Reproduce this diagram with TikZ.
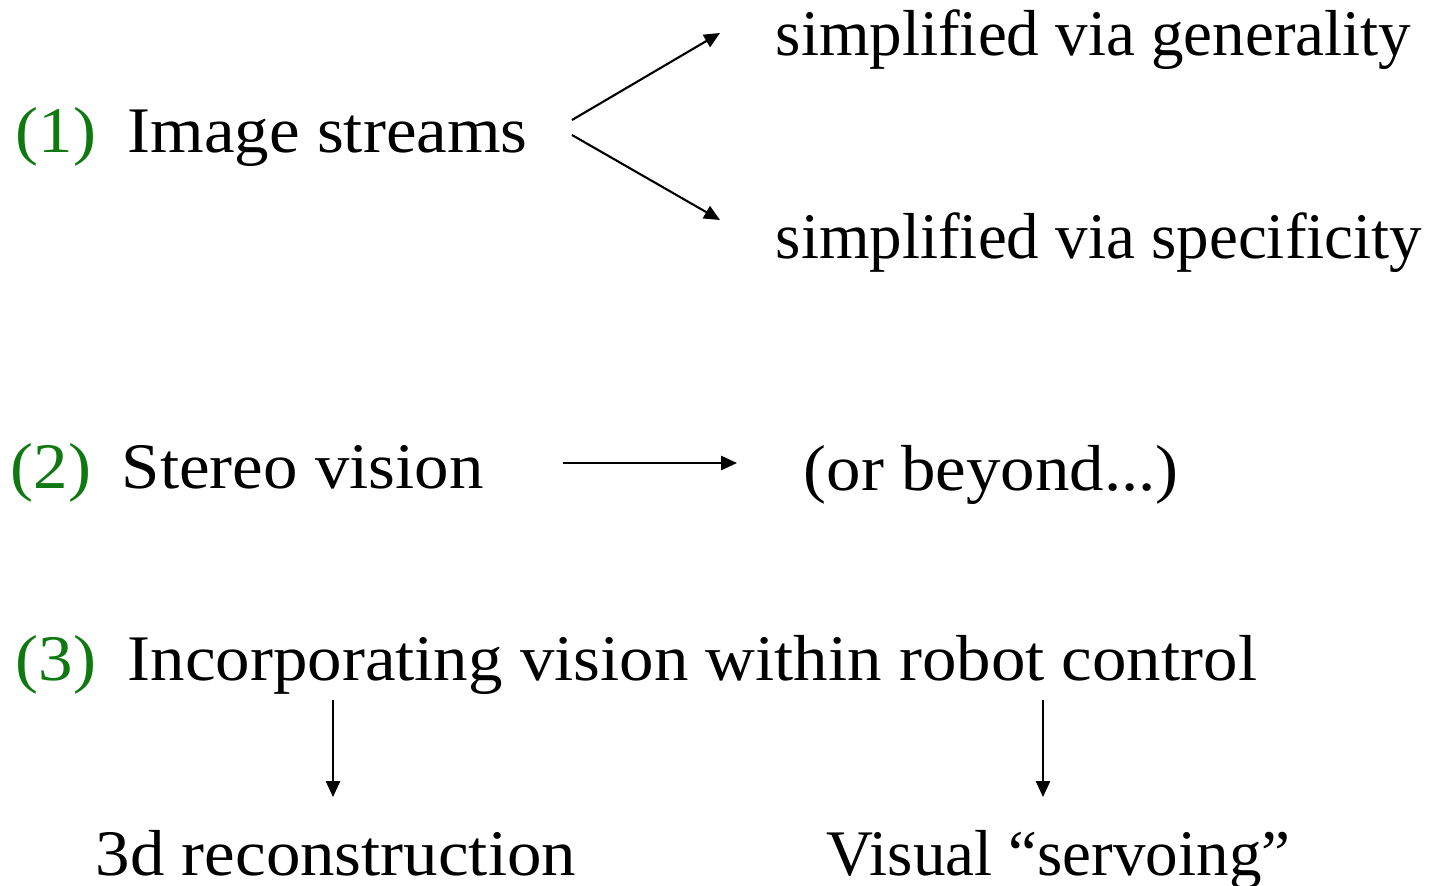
\documentclass[tikz,border=0pt]{standalone}
\usepackage{fontspec}
\setmainfont{Liberation Serif}[FakeStretch=1.06]
\newfontfamily\plainserif{Liberation Serif}
\usepackage{tikz}
\usetikzlibrary{arrows.meta}
\definecolor{numgreen}{RGB}{16,120,16}

\begin{document}
\begin{tikzpicture}[
    txt/.style={anchor=base west,inner sep=0pt,font=\fontsize{18.5}{22}\selectfont},
    plaintxt/.style={txt,font=\fontsize{18.5}{22}\plainserif},
    num/.style={txt,text=numgreen},
    arr/.style={line width=0.6pt,-{Triangle[length=4.5pt,width=4pt]}}
  ]
          \useasboundingbox (0,0) rectangle (14.4,8.85);
          % (1)
          \node[num] (n1) at (0.15,7.33) {(1)};
          \node[txt] (imgstr) at (1.27,7.33) {Image streams};
          \node[plaintxt] (gen) at (7.75,8.30) {simplified via generality};
          \node[plaintxt] (spec) at (7.75,6.27) {simplified via specificity};
          \coordinate (split1) at (5.72,7.65);
          \coordinate (split2) at (5.72,7.50);
          \coordinate (genin) at (7.20,8.52);
          \coordinate (specin) at (7.20,6.65);
          \draw[arr] (split1) -- (genin);
          \draw[arr] (split2) -- (specin);
          % (2)
          \node[num] (n2) at (0.10,3.97) {(2)};
          \node[txt] (stereo) at (1.21,3.97) {Stereo vision};
          \node[txt] (beyond) at (8.03,3.95) {(or beyond...)};
          \coordinate (stout) at (5.63,4.22);
          \coordinate (byin) at (7.37,4.22);
          \draw[arr] (stout) -- (byin);
          % (3)
          \node[num] (n3) at (0.15,2.05) {(3)};
          \node[txt] (incorp) at (1.27,2.05) {Incorporating vision within robot control};
          \node[txt] (recon) at (0.95,0.10) {3d reconstruction};
          \node[plaintxt] (servo) at (8.26,0.10) {Visual “servoing”};
          \coordinate (incl) at (3.33,1.85);
          \coordinate (incr) at (10.43,1.85);
          \coordinate (recin) at (3.33,0.88);
          \coordinate (serin) at (10.43,0.88);
          \draw[arr] (incl) -- (recin);
          \draw[arr] (incr) -- (serin);
        \end{tikzpicture}
\end{document}
